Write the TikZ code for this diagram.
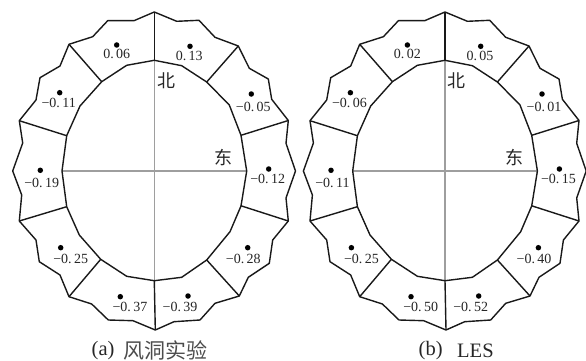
\documentclass[tikz,border=0pt]{standalone}
\usepackage{fontspec}
\setmainfont{Liberation Serif}
\newfontfamily\cjk{Noto Sans CJK SC}
\newcommand\gp{\kern2.4pt}
\newcommand\mn{\kern0pt−}
\newcommand\ringshape{%
  \draw[axisline] (62,171) -- (246.7,171);
  \draw[axisline] (154.3,60.3) -- (154.3,280.7);
  \draw[outline] (154.3,12) -- (176.7,21.3) -- (199,20.3) -- (215,37.3) -- (238.3,46) -- (249.3,68.3) -- (268.3,79) -- (271.7,99.3) -- (288.3,120.5) -- (286,143.3) -- (295.5,171) -- (286,198) -- (288.3,221) -- (272.7,240) -- (269.3,263.3) -- (248.3,277.3) -- (239.3,296) -- (215,303.3) -- (200,320) -- (174,321.7) -- (155.3,330) -- (133,320.7) -- (108.3,320) -- (91.7,304) -- (69,296.7) -- (60,275) -- (39.3,261.7) -- (36,240) -- (19.3,221) -- (21.7,195) -- (12.7,171) -- (22.7,143) -- (19.3,120.7) -- (36,100) -- (40,77.7) -- (60,66) -- (69,44.3) -- (92.7,36.7) -- (107.7,20.7) -- (134,20.7) -- cycle;
  \draw[outline] (154.3,60.3) -- (181.7,65.7) -- (206.7,82) -- (229.3,105) -- (241,135.3) -- (246.7,171) -- (241,206) -- (230,231.7) -- (206.7,260) -- (181.7,277.3) -- (154.3,280.7) -- (126.7,276.3) -- (100.7,259.3) -- (79.3,235) -- (66.7,206.7) -- (62,171) -- (66.7,135.7) -- (80,106) -- (101.7,81.7) -- (126.7,65.3) -- cycle;
  \draw[outline] (154.3,12) -- (154.3,60.3);
  \draw[outline] (238.3,46) -- (206.7,82);
  \draw[outline] (288.3,120.5) -- (241,135.3);
  \draw[outline] (288.3,221) -- (240.7,205.7);
  \draw[outline] (239.3,296) -- (206.7,260);
  \draw[outline] (155.3,330) -- (154.3,280.7);
  \draw[outline] (69,296.7) -- (100.7,259.3);
  \draw[outline] (19.3,221) -- (66.7,206.7);
  \draw[outline] (19.3,120.7) -- (66.7,135.7);
  \draw[outline] (69,44.3) -- (101.7,81.7);
}
\tikzset{
  outline/.style={line width=1.4pt,draw=black!90,line join=round},
  axisline/.style={line width=1.1pt,draw=black!38},
  val/.style={font=\fontsize{14}{16}\selectfont,text=black!85,inner sep=0pt},
  pdot/.style={circle,fill=black,inner sep=0pt,minimum size=5.5pt},
  dir/.style={font=\cjk\fontsize{18}{20}\selectfont,text=black!85,inner sep=0pt},
  capt/.style={font=\fontsize{20.5}{23}\selectfont,text=black!85,inner sep=0pt,anchor=west},
  captc/.style={font=\cjk\fontsize{21}{23}\selectfont,text=black!70,inner sep=0pt,anchor=west}
}
\begin{document}
\begin{tikzpicture}[x=1pt,y=-1pt]
\useasboundingbox (0,0) rectangle (586,361);
\begin{scope}
\ringshape
\end{scope}
\begin{scope}[xshift=290.7pt]
\ringshape
\end{scope}
\foreach \dx/\dy/\lx/\ly/\va/\vb [count=\i] in {
  116.7/45/116.7/54.3/0.\gp 06/0.\gp 02,
  190/46.3/189.3/56/0.\gp 13/0.\gp 05,
  251.3/94/253.3/107.3/\mn 0.\gp 05/\mn 0.\gp 01,
  59.7/92.7/58.7/103.3/\mn 0.\gp 11/\mn 0.\gp 06,
  40.3/170.3/41.7/182.7/\mn 0.\gp 19/\mn 0.\gp 11,
  268.7/169/267.7/179.3/\mn 0.\gp 12/\mn 0.\gp 15,
  60.7/247.7/70.7/259/\mn 0.\gp 25/\mn 0.\gp 25,
  247.7/247.7/243.3/258.7/\mn 0.\gp 28/\mn 0.\gp 40,
  120.3/296.7/130/306.7/\mn 0.\gp 37/\mn 0.\gp 50,
  188/296/180/306.7/\mn 0.\gp 39/\mn 0.\gp 52}{
  \node[pdot] (da\i) at (\dx,\dy) {};
  \node[pdot] (db\i) at (\dx+290.7,\dy) {};
  \node[val] (la\i) at (\lx,\ly) {\va};
  \node[val] (lb\i) at (\lx+290.7,\ly) {\vb};
}
\node[dir] (northa) at (166,80.3) {北};
\node[dir] (easta) at (223.3,158) {东};
\node[dir] (northb) at (456.7,80.3) {北};
\node[dir] (eastb) at (514,158) {东};
\node[capt] (capa) at (91.5,351) {(a)};
\node[captc] (capacn) at (123,350.5) {风洞实验};
\node[capt] (capb) at (418.5,351) {(b)};
\node[capt] (capbt) at (457,351) {LES};
\end{tikzpicture}
\end{document}
